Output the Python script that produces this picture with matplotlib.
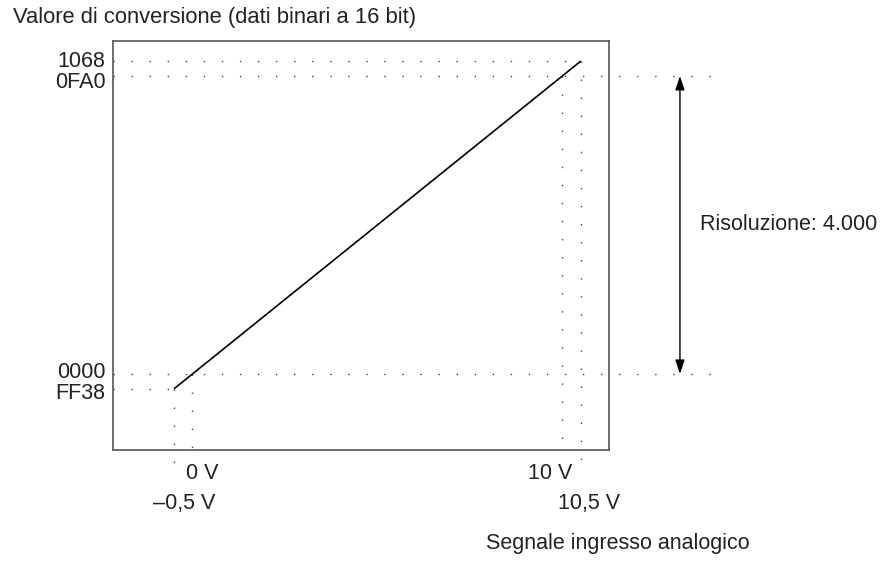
import matplotlib.pyplot as plt

plt.rcParams['font.family'] = ['Liberation Sans', 'DejaVu Sans']

# conversion line end points (input volts -> 16 bit code)
volts = [-0.5, 10.5]
codes = [-200, 4200]

# reference marks
code_ticks = [4200, 4000, 0, -200]
code_labels = ["1068", "0FA0", "0000", "FF38"]
volt_ticks = [-0.5, 0, 10, 10.5]
volt_labels = ["\u20130,5 V", "0 V", "10 V", "10,5 V"]
resolution_text = "Risoluzione: 4.000"

txt_color = "#222222"
dot_style = dict(color="#444444", lw=1.0, linestyle=(0, (1, 12)), clip_on=False)

fig = plt.figure(figsize=(8.93, 5.61), dpi=100)
ax = fig.add_axes([0.1265, 0.198, 0.5554, 0.729])
ax.set_xlim(-2.15, 11.26)
ax.set_ylim(-1020, 4470)
ax.set_xticks([])
ax.set_yticks([])
for s in ax.spines.values():
    s.set_color("#555555")
    s.set_linewidth(1.2)

x_left = -2.15
x_far = 14.04

# horizontal dotted guides
ax.plot([x_left, volts[1]], [code_ticks[0]] * 2, **dot_style)
ax.plot([x_left, x_far], [code_ticks[1]] * 2, **dot_style)
ax.plot([x_left, x_far], [code_ticks[2]] * 2, **dot_style)
ax.plot([x_left, volts[0]], [code_ticks[3]] * 2, **dot_style)

# vertical dotted guides
ax.plot([volt_ticks[0]] * 2, [codes[0], -1250], **dot_style)
ax.plot([volt_ticks[1]] * 2, [0, -1020], **dot_style)
ax.plot([volt_ticks[2]] * 2, [4000, -1020], **dot_style)
ax.plot([volt_ticks[3]] * 2, [codes[1], -1360], **dot_style)

# conversion line
ax.plot(volts, codes, color="black", lw=1.2, solid_capstyle="butt")

# y labels
y_offsets = [-0.6, -4.9, 1.0, -3.2]
for v, lab, dy in zip(code_ticks, code_labels, y_offsets):
    ax.annotate(lab, xy=(x_left, v), xytext=(-5.5, dy), textcoords="offset points",
                ha="right", va="center", fontsize=15.5, color=txt_color,
                annotation_clip=False)

# x labels
x_offsets = [(7, -38.5), (7, -17), (-8.5, -17), (6, -38.5)]
for v, lab, (dx, dy) in zip(volt_ticks, volt_labels, x_offsets):
    ax.annotate(lab, xy=(v, -1020), xytext=(dx, dy), textcoords="offset points",
                ha="center", va="center", fontsize=15.5, color=txt_color,
                annotation_clip=False)

# resolution arrow
ax.annotate("", xy=(13.18, code_ticks[1]), xytext=(13.18, code_ticks[2]),
            arrowprops=dict(arrowstyle="<|-|>,head_length=0.6,head_width=0.2",
                            color="black", lw=1.0,
                            mutation_scale=14, shrinkA=0, shrinkB=0),
            annotation_clip=False)
ax.text(13.72, (code_ticks[1] + code_ticks[2]) / 2, resolution_text,
        ha="left", va="center", fontsize=15.5, color=txt_color)

fig.text(13 / 893, 1 - 17 / 561, "Valore di conversione (dati binari a 16 bit)",
         ha="left", va="center", fontsize=15.8, color=txt_color)
fig.text(618 / 893, 1 - 543 / 561, "Segnale ingresso analogico",
         ha="center", va="center", fontsize=15.5, color=txt_color)

fig.savefig("out.png", dpi=100)
